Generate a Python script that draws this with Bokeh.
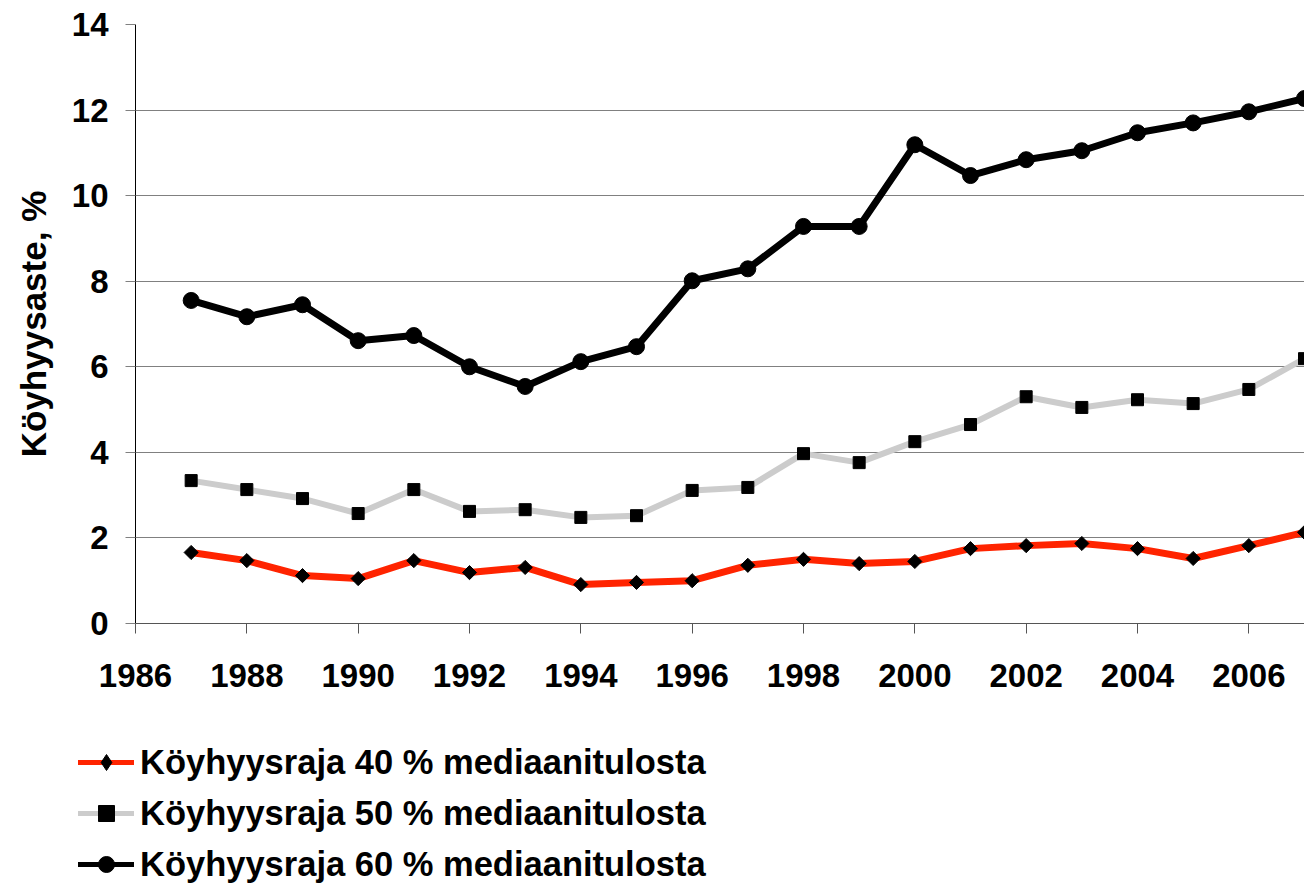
import math
from bokeh.plotting import figure
from bokeh.models import Legend, LegendItem, FixedTicker, Range1d
from bokeh.layouts import column
from bokeh.embed import file_html
from bokeh.resources import INLINE

years = list(range(1987, 2008))
raja40 = [1.66, 1.47, 1.12, 1.05, 1.47, 1.19, 1.31, 0.91, 0.96, 1.00, 1.36,
          1.50, 1.40, 1.45, 1.75, 1.82, 1.87, 1.75, 1.52, 1.82, 2.13]
raja50 = [3.34, 3.13, 2.92, 2.57, 3.13, 2.62, 2.66, 2.48, 2.52, 3.11, 3.18,
          3.97, 3.76, 4.25, 4.65, 5.30, 5.05, 5.23, 5.14, 5.47, 6.19]
raja60 = [7.55, 7.17, 7.45, 6.61, 6.73, 6.00, 5.54, 6.12, 6.47, 8.01, 8.29,
          9.28, 9.28, 11.19, 10.47, 10.84, 11.05, 11.47, 11.70, 11.96, 12.27]
labels = ["Köyhyysraja 40 % mediaanitulosta",
          "Köyhyysraja 50 % mediaanitulosta",
          "Köyhyysraja 60 % mediaanitulosta"]
x_ticks = list(range(1986, 2007, 2))
y_ticks = list(range(0, 15, 2))
y_title = "Köyhyysaste, %"

FONT = "Liberation Sans"
W = 1304
H_MAIN = 705
H_LEG = 184

p = figure(width=W, height=H_MAIN, output_backend="svg", toolbar_location=None,
           x_range=Range1d(1986, 2007), y_range=Range1d(0, 14),
           min_border_top=24, min_border_left=135, min_border_right=0,
           min_border_bottom=H_MAIN - 623)
p.frame_align = False
p.outline_line_color = None
p.background_fill_color = "white"

p.xgrid.visible = False
p.ygrid.ticker = FixedTicker(ticks=[t for t in y_ticks if 0 < t < 14])
p.ygrid.grid_line_color = "#808080"
p.ygrid.grid_line_width = 1

for ax in (p.xaxis[0], p.yaxis[0]):
    ax.major_label_text_font = FONT
    ax.major_label_text_font_style = "bold"
    ax.major_label_text_font_size = "33px"
    ax.major_label_text_color = "black"
    ax.major_tick_in = 0
    ax.major_tick_out = 10
    ax.minor_tick_in = 0
    ax.minor_tick_out = 0
    ax.axis_line_width = 1

p.xaxis.ticker = FixedTicker(ticks=x_ticks)
p.yaxis.ticker = FixedTicker(ticks=y_ticks)
p.xaxis.axis_line_color = "#555555"
p.xaxis.major_tick_line_color = "#555555"
p.yaxis.axis_line_color = "black"
p.yaxis.major_tick_line_color = "#808080"
p.xaxis.major_label_standoff = 30
p.yaxis.major_label_standoff = 17

p.yaxis.axis_label = y_title
p.yaxis.axis_label_text_font = FONT
p.yaxis.axis_label_text_font_style = "bold"
p.yaxis.axis_label_text_font_size = "35px"
p.yaxis.axis_label_text_color = "black"
p.yaxis.axis_label_standoff = 16

# (values, line colour, line width, marker, marker size, marker angle,
#  legend marker, legend marker size)
series = [
    (raja40, "#FF2400", 7, "square", 10, math.pi / 4, "diamond", 15),
    (raja50, "#CCCCCC", 6, "square", 12, 0.0, "square", 11),
    (raja60, "black", 7, "circle", 16, 0.0, "circle", 14),
]
for vals, col, lw, mk, sz, ang, _lm, _ls in series:
    p.line(years, vals, line_color=col, line_width=lw, line_join="round")
    p.scatter(years, vals, marker=mk, size=sz, angle=ang, fill_color="black",
              line_color="black")

# legend strip below the chart (its own figure, no axes)
q = figure(width=W, height=H_LEG, output_backend="svg", toolbar_location=None,
           x_range=Range1d(0, 1), y_range=Range1d(0, 1),
           min_border_top=0, min_border_left=0, min_border_right=0,
           min_border_bottom=0)
q.frame_align = False
q.axis.visible = False
q.grid.visible = False
q.outline_line_color = None
items = []
for (vals, col, lw, mk, sz, ang, lm, ls), lab in zip(series, labels):
    lr = q.line(years, vals, line_color=col, line_width=5, line_cap="round")
    sr = q.scatter(years, vals, marker=lm, size=ls,
                   fill_color="black", line_color="black")
    items.append(LegendItem(label=lab, renderers=[lr, sr]))

legend = Legend(items=items, location=(78, 5), orientation="vertical")
legend.label_text_font = FONT
legend.label_text_font_style = "bold"
legend.label_text_font_size = "34.5px"
legend.label_text_color = "black"
legend.glyph_width = 56
legend.glyph_height = 40
legend.label_height = 40
legend.spacing = 11
legend.label_standoff = 6
legend.padding = 0
legend.margin = 0
legend.border_line_color = None
legend.background_fill_alpha = 0
q.add_layout(legend, "center")

layout = column(p, q, spacing=0)
open("out.html", "w").write(file_html(layout, INLINE))
